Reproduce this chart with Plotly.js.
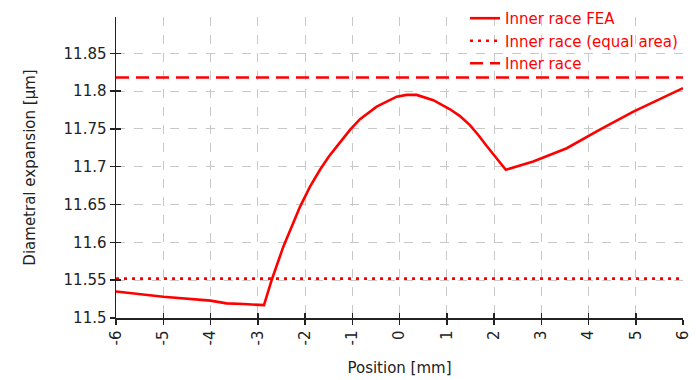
<!DOCTYPE html>
<html>
<head>
<meta charset="utf-8">
<script src="https://cdn.plot.ly/plotly-3.0.1.min.js"></script>
<style>html,body{margin:0;padding:0;background:#fff}#chart{width:696px;height:380px}</style>
</head>
<body>
<div id="chart"></div>
<script>
var feaX = [-6, -5, -4, -3.66, -3.3, -2.868, -2.705, -2.459, -2.106, -1.894, -1.683, -1.506, -1.33, -1.048, -0.836, -0.483, -0.06, 0.15, 0.364, 0.716, 1.069, 1.28, 1.49, 1.668, 1.85, 2.056, 2.25, 2.83, 3.54, 4.24, 4.95, 6];
var feaY = [11.535, 11.528, 11.523, 11.5194, 11.5185, 11.517, 11.5503, 11.5943, 11.647, 11.6737, 11.696, 11.7125, 11.7266, 11.7487, 11.763, 11.7795, 11.7927, 11.795, 11.795, 11.788, 11.776, 11.767, 11.755, 11.742, 11.727, 11.7112, 11.696, 11.707, 11.7245, 11.749, 11.773, 11.804];
var equalAreaY = 11.552;
var innerRaceY = 11.818;
var xRange = [-6, 6];
var yRange = [11.5, 11.898];
var yTicks = [11.5, 11.55, 11.6, 11.65, 11.7, 11.75, 11.8, 11.85];
var yTickText = ['11.5', '11.55', '11.6', '11.65', '11.7', '11.75', '11.8', '11.85'];
var xTicks = [-6, -5, -4, -3, -2, -1, 0, 1, 2, 3, 4, 5, 6];

var red = '#ff0000';
var traces = [
  {x: feaX, y: feaY, mode: 'lines', name: 'Inner race FEA', line: {color: red, width: 2.6}},
  {x: xRange, y: [equalAreaY, equalAreaY], mode: 'lines', name: 'Inner race (equal area)', line: {color: red, width: 2.6, dash: '3px,5px'}},
  {x: xRange, y: [innerRaceY, innerRaceY], mode: 'lines', name: 'Inner race', line: {color: red, width: 2.6, dash: '13px,7px'}},
  {x: xRange, y: [yRange[0], yRange[0]], xaxis: 'x2', yaxis: 'y2', mode: 'lines', showlegend: false, hoverinfo: 'skip', line: {width: 0, color: 'rgba(0,0,0,0)'}}
];
var fam = 'DejaVu Sans, Verdana, sans-serif';
var font = {family: fam, size: 15, color: '#222'};
var layout = {
  width: 696, height: 380,
  margin: {l: 116, r: 13, t: 17, b: 62, autoexpand: false},
  paper_bgcolor: '#fff', plot_bgcolor: '#fff',
  font: font,
  showlegend: true,
  legend: {x: 1, xanchor: 'right', y: 1.05, yanchor: 'top', bgcolor: 'rgba(0,0,0,0)', font: {family: fam, size: 15, color: red}, tracegroupgap: 0, itemwidth: 30},
  xaxis: {range: xRange, tickvals: xTicks, ticktext: xTicks.map(String), tickangle: -90, showline: true, linecolor: '#222', linewidth: 1.5, ticks: 'outside', ticklen: 5, tickcolor: '#222', tickwidth: 1.5, showgrid: true, gridcolor: '#c8c8c8', griddash: 'dash', gridwidth: 1, zeroline: false, title: {text: 'Position [mm]', font: font, standoff: 18}},
  yaxis: {range: yRange, tickvals: yTicks, ticktext: yTickText, showline: true, linecolor: '#222', linewidth: 1.5, ticks: 'outside', ticklen: 5, tickcolor: '#222', tickwidth: 1.5, showgrid: true, gridcolor: '#c8c8c8', griddash: 'dash', gridwidth: 1, zeroline: false, title: {text: 'Diametral expansion [µm]', font: font, standoff: 24}},
  xaxis2: {overlaying: 'x', range: xRange, tickvals: xTicks, showticklabels: false, ticks: 'inside', ticklen: 5, tickcolor: '#222', tickwidth: 1.5, showgrid: false, zeroline: false, showline: false},
  yaxis2: {overlaying: 'y', range: yRange, tickvals: yTicks, showticklabels: false, ticks: 'inside', ticklen: 5, tickcolor: '#222', tickwidth: 1.5, showgrid: false, zeroline: false, showline: false}
};
Plotly.newPlot('chart', traces, layout, {displayModeBar: false, staticPlot: true});
</script>
</body>
</html>
